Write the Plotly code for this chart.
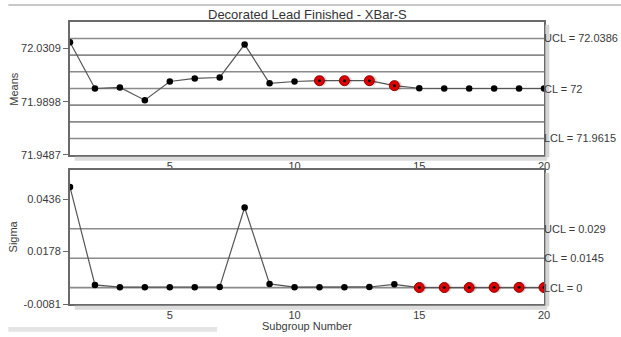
import plotly.graph_objects as go

subgroups = list(range(1, 21))
means = [72.0357, 72.0000, 72.0008, 71.9910, 72.0054, 72.0078, 72.0085, 72.0340, 72.0040, 72.0054,
         72.0060, 72.0060, 72.0060, 72.0022, 72.0002, 72.0000, 72.0000, 72.0000, 72.0000, 72.0000]
sigmas = [0.0496, 0.0013, 0.0002, 0.0002, 0.0002, 0.0002, 0.0003, 0.0395, 0.0018, 0.0002,
          0.0002, 0.0002, 0.0003, 0.0016, 0.0000, 0.0000, 0.0000, 0.0001, 0.0001, 0.0000]
means_flag = [11, 12, 13, 14]
sigma_flag = [15, 16, 17, 18, 19, 20]

mean_limits = {"UCL": 72.0386, "CL": 72.0, "LCL": 71.9615}
sigma_limits = {"UCL": 0.029, "CL": 0.0145, "LCL": 0.0}
mean_labels = ["UCL = 72.0386", "CL = 72", "LCL = 71.9615"]
sigma_labels = ["UCL = 0.029", "CL = 0.0145", "LCL = 0"]
mean_ticks = [71.9487, 71.9898, 72.0309]
sigma_ticks = [-0.0081, 0.0178, 0.0436]

title = "Decorated Lead Finished - XBar-S"
font = "Liberation Sans, Arial, sans-serif"
txt = "#3a3a3a"
fs = 11

fig = go.Figure()

def add_series(ys, flagged, xa, ya):
    fig.add_trace(go.Scatter(x=subgroups, y=ys, mode="lines+markers", xaxis=xa, yaxis=ya,
                             line=dict(color="#555555", width=1.2),
                             marker=dict(color="black", size=6.5), showlegend=False))
    fx = [s for s in subgroups if s in flagged]
    fy = [ys[s - 1] for s in fx]
    fig.add_trace(go.Scatter(x=[v + 0.08 for v in fx], y=fy, mode="markers", xaxis=xa, yaxis=ya,
                             marker=dict(color="rgba(0,0,0,0.15)", size=11), showlegend=False,
                             hoverinfo="skip"))
    fig.add_trace(go.Scatter(x=fx, y=fy, mode="markers", xaxis=xa, yaxis=ya,
                             marker=dict(color="#e00000", size=10,
                                         line=dict(color="#900000", width=1)), showlegend=False))
    fig.add_trace(go.Scatter(x=fx, y=fy, mode="markers", xaxis=xa, yaxis=ya,
                             marker=dict(color="black", size=3), showlegend=False,
                             hoverinfo="skip"))

add_series(means, means_flag, "x", "y")
add_series(sigmas, sigma_flag, "x2", "y2")

shapes = []
cl = mean_limits["CL"]
zone = (mean_limits["UCL"] - cl) / 3
for k in [-3, -2, -1, 0, 1, 2, 3]:
    shapes.append(dict(type="line", xref="x domain", yref="y", x0=0, x1=1,
                       y0=cl + k * zone, y1=cl + k * zone,
                       line=dict(color="#8a8a8a", width=1.6), layer="below"))
for v in sigma_limits.values():
    shapes.append(dict(type="line", xref="x2 domain", yref="y2", x0=0, x1=1, y0=v, y1=v,
                       line=dict(color="#8a8a8a", width=1.6), layer="below"))

for (y0, y1) in [(0.5284, 1.0), (0.0, 0.4752)]:
    shapes.append(dict(type="line", xref="paper", yref="paper", x0=1.007, x1=1.007,
                       y0=y0 - 0.008, y1=y1 - 0.01, line=dict(color="#d4d4d4", width=4)))
    shapes.append(dict(type="line", xref="paper", yref="paper", x0=0.01, x1=1.007,
                       y0=y0 - 0.013, y1=y0 - 0.013, line=dict(color="#dcdcdc", width=4)))
shapes.append(dict(type="line", xref="paper", yref="paper", x0=-0.13, x1=1.163,
                   y0=1.06, y1=1.06, line=dict(color="#c8c8c8", width=2)))
shapes.append(dict(type="rect", xref="paper", yref="paper", x0=-0.13, x1=0.31,
                   y0=-0.098, y1=-0.082, line=dict(width=0), fillcolor="#e4e4e4"))

annotations = []
for lab, v in zip(mean_labels, mean_limits.values()):
    annotations.append(dict(text=lab, xref="x domain", yref="y", x=1, y=v, xanchor="left",
                            yanchor="middle", showarrow=False, xshift=-2,
                            font=dict(size=fs, color=txt, family=font)))
for lab, v in zip(sigma_labels, sigma_limits.values()):
    annotations.append(dict(text=lab, xref="x2 domain", yref="y2", x=1, y=v, xanchor="left",
                            yanchor="middle", showarrow=False, xshift=-2,
                            font=dict(size=fs, color=txt, family=font)))
annotations.append(dict(text=title, xref="paper", yref="paper", x=0.5, y=1.0, yanchor="bottom",
                        xanchor="center", showarrow=False, yshift=-2,
                        font=dict(size=13, color="#333333", family=font)))
annotations.append(dict(text="Means", xref="paper", yref="paper", x=-0.12, y=0.764,
                        textangle=-90, showarrow=False, xanchor="center", yanchor="middle",
                        font=dict(size=fs, color=txt, family=font)))
annotations.append(dict(text="Sigma", xref="paper", yref="paper", x=-0.12, y=0.24,
                        textangle=-90, showarrow=False, xanchor="center", yanchor="middle",
                        font=dict(size=fs, color=txt, family=font)))
annotations.append(dict(text="Subgroup Number", xref="paper", yref="paper", x=0.5, y=-0.05,
                        showarrow=False, xanchor="center", yanchor="top",
                        font=dict(size=fs, color=txt, family=font)))

axis_common = dict(showgrid=False, zeroline=False, showline=True, mirror=True,
                   linecolor="#6a6a6a", linewidth=2, automargin=False,
                   tickfont=dict(size=fs, color=txt, family=font))

fig.update_layout(
    width=621, height=337, autosize=False,
    margin=dict(l=70, r=77, t=22, b=33, autoexpand=False),
    paper_bgcolor="white", plot_bgcolor="white",
    font=dict(family=font, color=txt),
    shapes=shapes, annotations=annotations,
    xaxis=dict(domain=[0, 1], range=[1, 20], tick0=0, dtick=5, ticks="", anchor="y",
               **axis_common),
    yaxis=dict(domain=[0.5284, 1.0], range=[71.9487, 72.0513], tickvals=mean_ticks,
               ticktext=[f"{v:.4f}" for v in mean_ticks], ticks="outside", ticklen=5,
               tickcolor="#6a6a6a", anchor="x", **axis_common),
    xaxis2=dict(domain=[0, 1], range=[1, 20], tick0=0, dtick=5, ticks="", anchor="y2",
                **axis_common),
    yaxis2=dict(domain=[0, 0.4752], range=[-0.0081, 0.058], tickvals=sigma_ticks,
                ticktext=[f"{v:.4f}" for v in sigma_ticks], ticks="outside", ticklen=5,
                tickcolor="#6a6a6a", anchor="x2", **axis_common),
)

fig.write_html("out.html", config={"displayModeBar": False},
               post_script="document.body.style.margin='0';")
